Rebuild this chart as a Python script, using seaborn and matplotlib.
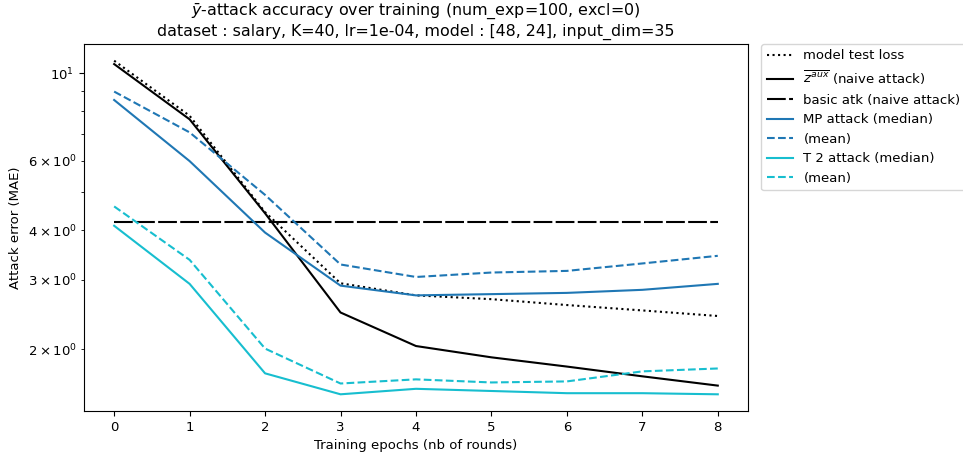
import matplotlib
matplotlib.use("Agg")
import matplotlib.pyplot as plt
import seaborn as sns
import pandas as pd
import numpy as np

epochs = [0, 1, 2, 3, 4, 5, 6, 7, 8]
test_loss = [10.75, 7.80, 4.45, 2.94, 2.74, 2.68, 2.59, 2.51, 2.43]
z_aux = [10.54, 7.64, 4.42, 2.48, 2.04, 1.91, 1.81, 1.71, 1.62]
basic_atk = [4.20, 4.20, 4.20, 4.20, 4.20, 4.20, 4.20, 4.20, 4.20]
mp_median = [8.55, 5.99, 3.95, 2.90, 2.74, 2.76, 2.78, 2.83, 2.93]
mp_mean = [8.98, 7.08, 4.92, 3.28, 3.05, 3.13, 3.16, 3.30, 3.45]
t2_median = [4.11, 2.93, 1.74, 1.54, 1.59, 1.57, 1.55, 1.55, 1.54]
t2_mean = [4.60, 3.37, 2.01, 1.64, 1.68, 1.65, 1.66, 1.76, 1.79]

labels = ["model test loss", r"$\overline{z^{aux}}$ (naive attack)", "basic atk (naive attack)",
          "MP attack (median)", "(mean)", "T 2 attack (median)", "(mean)"]

plt.rcParams['font.family'] = ['DejaVu Sans']
plt.rcParams['font.size'] = 9.5

fig = plt.figure(figsize=(9.63, 4.57), dpi=100)
ax = fig.add_axes([0.0872, 0.1007, 0.6895, 0.803])

series = [
    (test_loss, "black", ":", 1.5),
    (z_aux, "black", "-", 1.5),
    (basic_atk, "black", (0, (9, 1.6)), 1.5),
    (mp_median, "#1f77b4", "-", 1.5),
    (mp_mean, "#1f77b4", "--", 1.5),
    (t2_median, "#17becf", "-", 1.5),
    (t2_mean, "#17becf", "--", 1.5),
]
for (vals, col, ls, lw), lab in zip(series, labels):
    df = pd.DataFrame({"epoch": epochs, "val": vals})
    sns.lineplot(data=df, x="epoch", y="val", color=col, linestyle=ls, linewidth=lw, label=lab, ax=ax)

ax.set_yscale("log")
ax.set_xticks(epochs)
ax.set_xlabel("Training epochs (nb of rounds)")
ax.set_ylabel("Attack error (MAE)")
ax.set_title(r"$\bar{y}$-attack accuracy over training (num_exp=100, excl=0)" "\n"
             "dataset : salary, K=40, lr=1e-04, model : [48, 24], input_dim=35", fontsize=11.4)
ax.legend(loc="upper left", bbox_to_anchor=(1.02, 1.0), borderaxespad=0, frameon=True)

fig.savefig("out.png", dpi=100)
